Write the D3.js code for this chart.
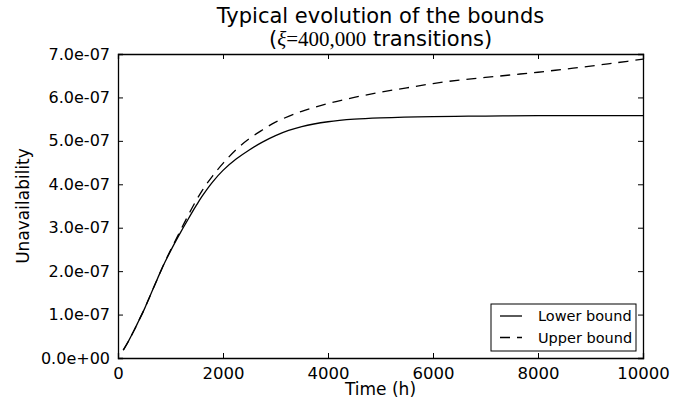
<!DOCTYPE html>
<html>
<head>
<meta charset="utf-8">
<script src="https://cdn.jsdelivr.net/npm/d3@7"></script>
<style>
  body { margin: 0; background: #fff; }
  text { font-family: "DejaVu Sans", sans-serif; fill: #000; }
  .axis path, .axis line { stroke: #000; }
</style>
</head>
<body>
<script>
// values
const timeLower = [100, 200, 300, 400, 500, 600, 700, 800, 900, 1000, 1100, 1200, 1300, 1400,
  1500, 1600, 1800, 2000, 2250, 2500, 2750, 3000, 3250, 3500, 4000, 4500, 5000, 6000, 7000,
  8000, 9000, 10000];
const lowerBound = [1.8e-8, 3.9e-8, 6.2e-8, 8.7e-8, 1.12e-7, 1.40e-7, 1.68e-7, 1.96e-7, 2.22e-7,
  2.46e-7, 2.69e-7, 2.91e-7, 3.12e-7, 3.33e-7, 3.53e-7, 3.72e-7, 4.05e-7, 4.32e-7, 4.58e-7,
  4.79e-7, 4.97e-7, 5.12e-7, 5.24e-7, 5.33e-7, 5.44e-7, 5.50e-7, 5.53e-7, 5.56e-7, 5.57e-7,
  5.58e-7, 5.58e-7, 5.58e-7];

const timeUpper = [100, 200, 300, 400, 500, 600, 700, 800, 900, 1000, 1200, 1400, 1600, 1800,
  2000, 2250, 2500, 2750, 3000, 3500, 4000, 4500, 5000, 5500, 6000, 6500, 7000, 7500, 8000,
  8500, 9000, 9500, 10000];
const upperBound = [1.8e-8, 3.9e-8, 6.2e-8, 8.7e-8, 1.12e-7, 1.40e-7, 1.68e-7, 1.96e-7, 2.23e-7,
  2.48e-7, 2.96e-7, 3.43e-7, 3.85e-7, 4.19e-7, 4.48e-7, 4.80e-7, 5.05e-7, 5.25e-7, 5.43e-7,
  5.68e-7, 5.86e-7, 6.00e-7, 6.12e-7, 6.22e-7, 6.32e-7, 6.40e-7, 6.46e-7, 6.52e-7, 6.58e-7,
  6.65e-7, 6.72e-7, 6.80e-7, 6.88e-7];

const xTicks = [0, 2000, 4000, 6000, 8000, 10000];
const yTicks = [0, 1e-7, 2e-7, 3e-7, 4e-7, 5e-7, 6e-7, 7e-7];
const yTickLabels = ['0.0e+00', '1.0e-07', '2.0e-07', '3.0e-07', '4.0e-07', '5.0e-07', '6.0e-07', '7.0e-07'];
const seriesNames = ['Lower bound', 'Upper bound'];

const width = 695;
const height = 403;
const margin = { top: 54, right: 52, bottom: 45, left: 118 };
const chartWidth = width - margin.left - margin.right;
const chartHeight = height - margin.top - margin.bottom;

const svg = d3.select('body')
    .append('svg')
    .attr('width', width)
    .attr('height', height);

const chart = svg.append('g')
    .attr('transform', `translate(${margin.left},${margin.top})`);

const xScale = d3.scaleLinear().domain([0, 10000]).range([0, chartWidth]);
const yScale = d3.scaleLinear().domain([0, 7e-7]).range([chartHeight, 0]);

// axes, ticks pointing inward on all four sides
const axisBottomG = chart.append('g')
    .classed('axis', true)
    .attr('transform', `translate(0,${chartHeight})`)
    .call(d3.axisBottom(xScale).tickValues(xTicks).tickSize(-5).tickPadding(9).tickFormat(d3.format('d')));
const axisTopG = chart.append('g')
    .classed('axis', true)
    .call(d3.axisTop(xScale).tickValues(xTicks).tickSize(-5).tickFormat(''));
const axisLeftG = chart.append('g')
    .classed('axis', true)
    .call(d3.axisLeft(yScale).tickValues(yTicks).tickSize(-5).tickPadding(8)
        .tickFormat((d, i) => yTickLabels[i]));
const axisRightG = chart.append('g')
    .classed('axis', true)
    .attr('transform', `translate(${chartWidth},0)`)
    .call(d3.axisRight(yScale).tickValues(yTicks).tickSize(-5).tickFormat(''));

[axisBottomG, axisTopG, axisLeftG, axisRightG].forEach(g => {
  g.select('.domain').attr('stroke-width', 1.3);
  g.selectAll('text').style('font-size', '16px').style('font-family', '"DejaVu Sans", sans-serif');
});
axisBottomG.selectAll('text').style('font-size', '16.5px');

const line = d3.line()
    .x(d => xScale(d[0]))
    .y(d => yScale(d[1]))
    .curve(d3.curveCatmullRom.alpha(0.5));

chart.append('path')
    .datum(d3.zip(timeLower, lowerBound))
    .attr('fill', 'none')
    .attr('stroke', '#000')
    .attr('stroke-width', 1.3)
    .attr('d', line);

chart.append('path')
    .datum(d3.zip(timeUpper, upperBound))
    .attr('fill', 'none')
    .attr('stroke', '#000')
    .attr('stroke-width', 1.3)
    .attr('stroke-dasharray', '10,7')
    .attr('d', line);

// titles
svg.append('text')
    .attr('x', margin.left + chartWidth / 2)
    .attr('y', 23)
    .style('font-size', '21px')
    .style('text-anchor', 'middle')
    .text('Typical evolution of the bounds');

const sub = svg.append('text')
    .attr('x', margin.left + chartWidth / 2)
    .attr('y', 46)
    .style('font-size', '21px')
    .style('text-anchor', 'middle');
sub.append('tspan').text('(');
sub.append('tspan').style('font-family', '"Liberation Serif", serif').style('font-style', 'italic').text('ξ');
sub.append('tspan').style('font-family', '"Liberation Serif", serif').text('=400,000');
sub.append('tspan').text(' transitions)');

svg.append('text')
    .attr('x', margin.left + chartWidth / 2)
    .attr('y', 395)
    .style('font-size', '17px')
    .style('text-anchor', 'middle')
    .text('Time (h)');

svg.append('text')
    .attr('transform', `translate(29, ${margin.top + chartHeight / 2}) rotate(-90)`)
    .style('font-size', '17px')
    .style('text-anchor', 'middle')
    .text('Unavailability');

// legend
const legend = chart.append('g')
    .attr('transform', `translate(${chartWidth - 152},${chartHeight - 54})`);
legend.append('rect')
    .attr('width', 145)
    .attr('height', 47)
    .attr('fill', '#fff')
    .attr('stroke', '#000')
    .attr('stroke-width', 1);
seriesNames.forEach((name, i) => {
  const y = 12 + i * 21.5;
  legend.append('line')
      .attr('x1', 9).attr('x2', 31)
      .attr('y1', y).attr('y2', y)
      .attr('stroke', '#000')
      .attr('stroke-width', 1.3)
      .attr('stroke-dasharray', i === 1 ? '10,7' : null);
  legend.append('text')
      .attr('x', 47)
      .attr('y', y)
      .attr('dy', '0.35em')
      .style('font-size', '14.5px')
      .text(name);
});
</script>
</body>
</html>
